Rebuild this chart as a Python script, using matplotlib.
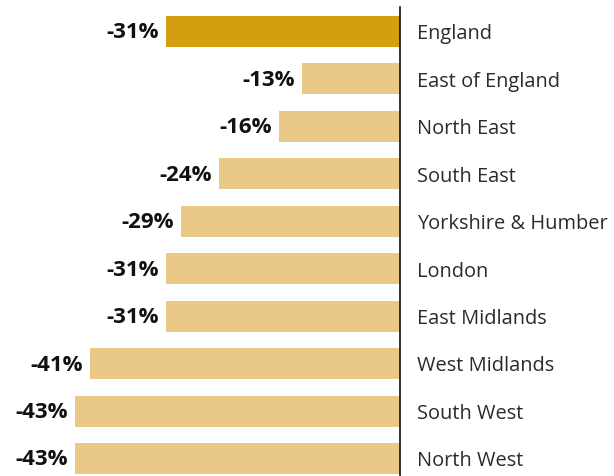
import numpy as np
import matplotlib.pyplot as plt

regions = ['England', 'East of England', 'North East', 'South East', 'Yorkshire & Humber',
           'London', 'East Midlands', 'West Midlands', 'South West', 'North West']
change = [-31, -13, -16, -24, -29, -31, -31, -41, -43, -43]

plt.rcParams['font.family'] = ['Open Sans', 'DejaVu Sans']

fig = plt.figure(figsize=(6.14, 4.76), dpi=100)
ax = fig.add_axes([0, 0, 400 / 614, 469 / 476])

y = np.arange(len(regions))
colors = ['#D59E10'] + ['#EAC888'] * (len(regions) - 1)
ax.barh(y, change, height=0.653, color=colors)

ax.set_xlim(-52.92, 0)
ax.set_ylim(9.369, -0.516)

for i, (name, v) in enumerate(zip(regions, change)):
    ax.annotate(f'{v}%', (v, i), xytext=(-7, -7), textcoords='offset pixels',
                ha='right', va='baseline', fontsize=16, fontweight='bold', color='#111111')
    ax.annotate(name, (0, i), xytext=(17, -7.8), textcoords='offset pixels',
                ha='left', va='baseline', fontsize=14.4, color='#2b2b2b', annotation_clip=False)

for s in ['top', 'left', 'bottom']:
    ax.spines[s].set_visible(False)
ax.spines['right'].set_color('#111111')
ax.spines['right'].set_linewidth(1.2)
ax.set_xticks([])
ax.set_yticks([])

plt.savefig('out.png', dpi=100)
